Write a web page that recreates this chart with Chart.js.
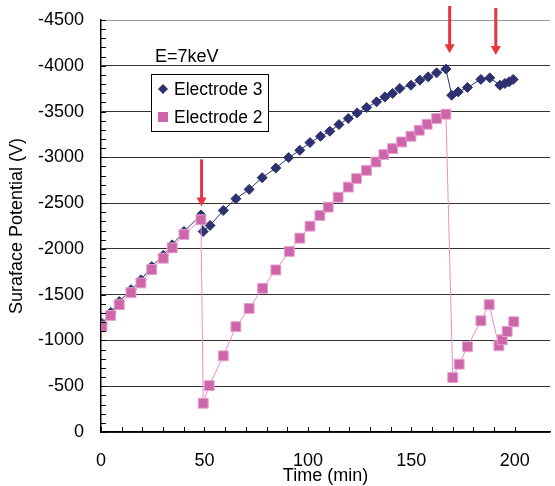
<!DOCTYPE html>
<html>
<head>
<meta charset="utf-8">
<script src="https://cdn.jsdelivr.net/npm/chart.js@4.4.0/dist/chart.umd.min.js"></script>
<style>
  html, body { margin: 0; padding: 0; background: #fff; }
  #wrap { width: 555px; height: 486px; }
</style>
</head>
<body>
<div id="wrap"><canvas id="chart" width="555" height="486"></canvas></div>
<script>
// Electrode 3 (navy diamonds)
const e3Time = [0.5, 4.7, 8.8, 14.5, 19.3, 24.5, 30.1, 34.4, 40.1, 48.3, 49.4, 52.7, 59.1, 65.2, 71.6, 77.9, 84.5, 90.7, 96.1, 101, 106.1, 110.6, 115, 119.5, 123.8, 128.4, 133.2, 137.2, 140.9, 144.4, 149.8, 154.1, 158.1, 162.2, 166.7, 169.5, 172.6, 177.1, 183.6, 187.9, 192.8, 195.2, 197.2, 199.2];
const e3Volt = [-1185, -1306, -1424, -1555, -1662, -1806, -1930, -2044, -2190, -2370, -2190, -2256, -2420, -2548, -2650, -2778, -2883, -2997, -3077, -3161, -3230, -3285, -3358, -3424, -3485, -3544, -3606, -3660, -3698, -3752, -3788, -3843, -3879, -3923, -3964, -3679, -3715, -3763, -3851, -3868, -3788, -3807, -3825, -3851];

// Electrode 2 (pink squares)
const e2Time = [0.5, 4.7, 8.8, 14.5, 19.3, 24.5, 30.1, 34.4, 40.1, 48.3, 49.4, 52.3, 59.1, 65.2, 71.6, 78.1, 84.5, 91, 96.1, 101, 105.8, 109.8, 114.6, 119.5, 123.5, 128.3, 132.9, 136.7, 140.9, 145.3, 149.8, 153.8, 157.6, 162.2, 166.7, 170, 173.1, 177.1, 183.6, 187.6, 192.3, 193.9, 196.3, 199.5];
const e2Volt = [-1150, -1273, -1391, -1522, -1628, -1774, -1898, -2011, -2157, -2318, -314, -507, -832, -1150, -1350, -1569, -1770, -1971, -2117, -2248, -2365, -2456, -2565, -2675, -2767, -2858, -2949, -3030, -3095, -3168, -3230, -3296, -3361, -3424, -3471, -595, -741, -931, -1215, -1391, -942, -1007, -1098, -1204];

const seriesNames = ['Electrode 3', 'Electrode 2'];

// red arrows (time, top voltage, tip voltage)
const arrowTime = [48.6, 168.5, 190.8];
const arrowTop = [-2978, -4653, -4632];
const arrowTip = [-2464, -4136, -4117];

const noteText = 'E=7keV';
const notePos = [26.1, -4095];

const FONT = "'Liberation Sans', Arial, sans-serif";
const NAVY = '#2d3170';
const PINK = '#cc66a9';
const PINK_LINE = '#f08cc8';
const RED = '#e8343f';

function toPoints(xs, ys) {
  return xs.map((t, i) => ({ x: t, y: ys[i] }));
}

// ticks pointing inwards, arrows, note and the legend box
const overlay = {
  id: 'overlay',
  afterDraw(chart) {
    const ctx = chart.ctx;
    const xs = chart.scales.x;
    const ys = chart.scales.y;
    const area = chart.chartArea;

    ctx.save();
    ctx.strokeStyle = '#000';
    ctx.lineWidth = 1;
    xs.ticks.forEach(tk => {
      if (tk.value % 10 !== 0) return;
      const px = Math.round(xs.getPixelForValue(tk.value)) + 0.5;
      ctx.beginPath();
      ctx.moveTo(px, area.bottom);
      ctx.lineTo(px, area.bottom - 5);
      ctx.stroke();
    });
    ys.ticks.forEach(tk => {
      const py = Math.round(ys.getPixelForValue(tk.value)) + 0.5;
      ctx.beginPath();
      ctx.moveTo(area.left, py);
      ctx.lineTo(area.left + 5, py);
      ctx.stroke();
    });

    // arrows
    ctx.strokeStyle = RED;
    ctx.fillStyle = RED;
    arrowTime.forEach((t, i) => {
      const px = xs.getPixelForValue(t);
      const top = ys.getPixelForValue(arrowTop[i]);
      const tip = ys.getPixelForValue(arrowTip[i]);
      ctx.lineWidth = 3;
      ctx.beginPath();
      ctx.moveTo(px, top);
      ctx.lineTo(px, tip - 8);
      ctx.stroke();
      ctx.beginPath();
      ctx.moveTo(px - 5, tip - 9);
      ctx.lineTo(px + 5, tip - 9);
      ctx.lineTo(px, tip);
      ctx.closePath();
      ctx.fill();
    });

    // note
    ctx.fillStyle = '#000';
    ctx.font = '18px ' + FONT;
    ctx.textAlign = 'left';
    ctx.textBaseline = 'middle';
    ctx.fillText(noteText, xs.getPixelForValue(notePos[0]), ys.getPixelForValue(notePos[1]));

    // legend box
    const lx = area.left + 50, ly = area.top + 54, lw = 117, lh = 57;
    ctx.fillStyle = '#fff';
    ctx.fillRect(lx, ly, lw, lh);
    ctx.strokeStyle = '#000';
    ctx.lineWidth = 1;
    ctx.strokeRect(lx + 0.5, ly + 0.5, lw, lh);
    const rows = [ly + 15, ly + 43];
    // diamond
    ctx.fillStyle = NAVY;
    ctx.beginPath();
    ctx.moveTo(lx + 12 - 5, rows[0]);
    ctx.lineTo(lx + 12, rows[0] - 5);
    ctx.lineTo(lx + 12 + 5, rows[0]);
    ctx.lineTo(lx + 12, rows[0] + 5);
    ctx.closePath();
    ctx.fill();
    // square
    ctx.fillStyle = PINK;
    ctx.fillRect(lx + 7, rows[1] - 5, 10, 10);
    ctx.fillStyle = '#000';
    ctx.font = '17.5px ' + FONT;
    seriesNames.forEach((name, i) => ctx.fillText(name, lx + 23, rows[i] + 1));
    ctx.restore();
  }
};

new Chart(document.getElementById('chart'), {
  type: 'scatter',
  data: {
    datasets: [
      {
        label: seriesNames[1],
        data: toPoints(e2Time, e2Volt),
        showLine: true,
        borderColor: PINK_LINE,
        borderWidth: 1,
        pointStyle: 'rect',
        pointRadius: 7,
        pointBackgroundColor: PINK,
        pointBorderColor: '#e6a3cf',
        pointBorderWidth: 1,
        order: 0
      },
      {
        label: seriesNames[0],
        data: toPoints(e3Time, e3Volt),
        showLine: true,
        borderColor: NAVY,
        borderWidth: 1,
        pointStyle: 'rectRot',
        pointRadius: 5,
        pointBackgroundColor: NAVY,
        pointBorderColor: NAVY,
        pointBorderWidth: 1,
        order: 1
      }
    ]
  },
  options: {
    responsive: false,
    animation: false,
    layout: { autoPadding: false, padding: { top: 20, right: 5, left: 0, bottom: 0 } },
    plugins: {
      legend: { display: false },
      tooltip: { enabled: false }
    },
    scales: {
      x: {
        type: 'linear',
        min: 0,
        max: 217,
        ticks: {
          stepSize: 10,
          autoSkip: false,
          maxRotation: 0,
          padding: 18,
          color: '#000',
          font: { family: FONT, size: 18 },
          callback: v => (v % 50 === 0 ? String(v) : '')
        },
        grid: { drawOnChartArea: false, drawTicks: false },
        border: { color: '#000', width: 1.5 },
        title: {
          display: true,
          text: 'Time (min)',
          color: '#000',
          font: { family: FONT, size: 18 },
          padding: { top: 0, bottom: -1 }
        },
        afterFit: s => {
          s.height = 54;
          s.paddingLeft = 0;
          s.paddingRight = 0;
        }
      },
      y: {
        type: 'linear',
        min: -4500,
        max: 0,
        reverse: true,
        ticks: {
          stepSize: 100,
          autoSkip: false,
          padding: 17,
          color: '#000',
          font: { family: FONT, size: 18 },
          callback: v => (v % 500 === 0 ? String(v) : '')
        },
        grid: {
          drawTicks: false,
          lineWidth: 1,
          color: c => {
            if (!c.tick || c.tick.value % 500 !== 0) return 'rgba(0,0,0,0)';
            return c.tick.value === -4500 ? '#999' : '#333';
          }
        },
        border: { color: '#000', width: 1.5 },
        title: {
          display: true,
          text: 'Suraface Potential (V)',
          color: '#000',
          font: { family: FONT, size: 18 },
          padding: { top: 6, bottom: 0 }
        },
        afterFit: s => {
          s.width = 101;
          s.paddingTop = 0;
          s.paddingBottom = 0;
        }
      }
    }
  },
  plugins: [overlay]
});
</script>
</body>
</html>
